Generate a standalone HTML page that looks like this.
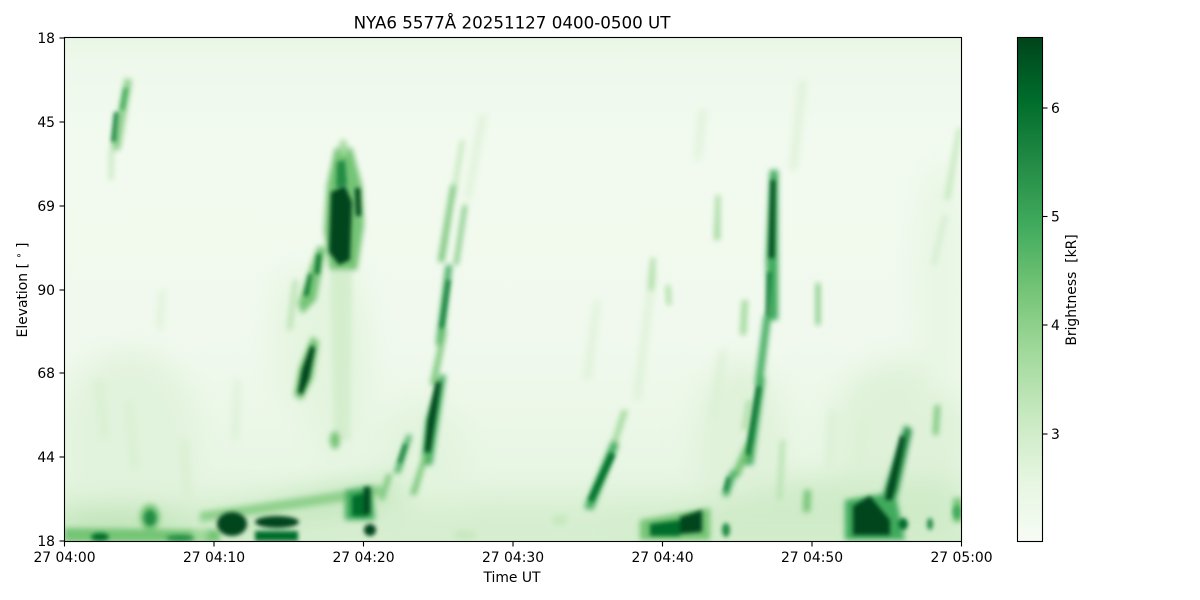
<!DOCTYPE html>
<html><head><meta charset="utf-8"><style>
html,body{margin:0;padding:0;background:#fff;}
svg{display:block;font-family:"DejaVu Sans","Liberation Sans",sans-serif;}
</style></head><body>
<svg width="1200" height="600" viewBox="0 0 1200 600" xmlns="http://www.w3.org/2000/svg">
<defs>
<clipPath id="pc"><rect x="64.5" y="37.5" width="897" height="504"/></clipPath>
<filter id="b14" x="-50%" y="-50%" width="200%" height="200%"><feGaussianBlur stdDeviation="14"/></filter>
<filter id="b5" x="-50%" y="-50%" width="200%" height="200%"><feGaussianBlur stdDeviation="4"/></filter>
<filter id="b2" x="-50%" y="-50%" width="200%" height="200%"><feGaussianBlur stdDeviation="3"/></filter>
<filter id="b1" x="-50%" y="-50%" width="200%" height="200%"><feGaussianBlur stdDeviation="2"/></filter>
<linearGradient id="bg" x1="0" y1="0" x2="0" y2="1">
<stop offset="0" stop-color="#e9f6e5"/>
<stop offset="0.05" stop-color="#eef8eb"/>
<stop offset="0.2" stop-color="#f2faef"/>
<stop offset="0.6" stop-color="#f1f9ee"/>
<stop offset="0.85" stop-color="#e8f6e4"/>
<stop offset="1" stop-color="#d8efd2"/>
</linearGradient>
<linearGradient id="cb" x1="0" y1="1" x2="0" y2="0">
<stop offset="0" stop-color="#f7fcf5"/>
<stop offset="0.125" stop-color="#e5f5e0"/>
<stop offset="0.25" stop-color="#c7e9c0"/>
<stop offset="0.375" stop-color="#a1d99b"/>
<stop offset="0.5" stop-color="#74c476"/>
<stop offset="0.625" stop-color="#41ab5d"/>
<stop offset="0.75" stop-color="#238b45"/>
<stop offset="0.875" stop-color="#006d2c"/>
<stop offset="1" stop-color="#00441b"/>
</linearGradient>
</defs>

<g clip-path="url(#pc)">
<rect x="64" y="37" width="898" height="505" fill="url(#bg)"/>
<g filter="url(#b14)">
<ellipse cx="130" cy="440" rx="70" ry="90" fill="#e2f3dd"/>
<ellipse cx="335" cy="360" rx="35" ry="100" fill="#e3f4de"/>
<ellipse cx="290" cy="340" rx="20" ry="70" fill="#e6f5e1"/>
<ellipse cx="420" cy="470" rx="50" ry="70" fill="#e3f4de"/>
<ellipse cx="740" cy="450" rx="45" ry="90" fill="#e0f2da"/>
<ellipse cx="900" cy="440" rx="70" ry="80" fill="#dff2d9"/>
<ellipse cx="940" cy="280" rx="25" ry="120" fill="#e8f6e4"/>
<rect x="64" y="505" width="900" height="40" fill="#d6eecf"/>
<path d="M200,530 Q300,490 400,480 L400,500 Q300,510 200,540Z" fill="#b8e2b1"/>
<path d="M620,530 Q700,505 800,480 L960,480 L960,541 L620,541Z" fill="#cfebc8"/>
<ellipse cx="120" cy="525" rx="70" ry="18" fill="#bfe4b8"/>
</g>
<g filter="url(#b5)" fill="#d9f0d3">
<path d="M95,380 L103,380 L110,440 L100,440Z"/>
<path d="M125,400 L132,400 L140,470 L130,470Z"/>
<path d="M180,440 L188,440 L192,500 L182,500Z"/>
<path d="M235,380 L240,380 L238,440 L232,440Z"/>
<path d="M700,110 L706,110 L700,160 L695,160Z"/>
<path d="M650,270 L656,270 L640,400 L634,400Z"/>
<path d="M595,300 L600,300 L590,380 L584,380Z"/>
<path d="M800,80 L806,80 L796,170 L790,170Z"/>
<path d="M480,115 L486,115 L470,200 L465,200Z"/>
<path d="M830,410 L836,410 L832,470 L826,470Z"/>
<path d="M860,420 L866,420 L862,470 L856,470Z"/>
<path d="M720,350 L726,350 L716,420 L710,420Z"/>
<path d="M160,290 L165,290 L162,330 L157,330Z"/>
</g>
<g filter="url(#b2)">
<path d="M125,78 L132,80 L120,150 L111,150Z" fill="#8fd08c"/>
<path d="M109,150 L114,150 L113,180 L109,180Z" fill="#c7e9c0"/>
<path d="M335,148 L352,148 L362,185 L364,225 L357,270 L330,272 L324,230 L327,185Z" fill="#74c476"/>
<path d="M340,140 L346,140 L348,155 L340,155Z" fill="#a1d99b"/>
<path d="M330,270 L352,270 L350,440 L334,440Z" fill="#d4eecd"/>
<path d="M318,246 L326,248 L316,300 L302,314 L298,304 L310,268Z" fill="#74c476"/>
<path d="M293,280 L298,280 L292,330 L287,330Z" fill="#b8e2b1"/>
<path d="M312,336 L319,342 L313,378 L302,400 L294,396 L299,368Z" fill="#74c476"/>
<ellipse cx="335" cy="440" rx="5" ry="9" fill="#74c476"/>
<path d="M460,140 L465,140 L455,200 L450,200Z" fill="#c7e9c0"/>
<path d="M451,185 L456,185 L444,262 L438,262Z" fill="#74c476"/>
<path d="M463,205 L467,205 L458,265 L454,265Z" fill="#74c476"/>
<path d="M446,265 L452,265 L443,345 L436,345Z" fill="#41ab5d"/>
<path d="M442,330 L447,330 L436,385 L430,385Z" fill="#74c476"/>
<path d="M440,375 L446,375 L432,465 L421,465 L426,420Z" fill="#41ab5d"/>
<path d="M423,455 L428,455 L416,495 L410,495Z" fill="#74c476"/>
<path d="M407,435 L412,435 L400,473 L394,473Z" fill="#41ab5d"/>
<path d="M387,474 L392,474 L384,500 L379,500Z" fill="#74c476"/>
<path d="M622,410 L628,410 L615,450 L609,450Z" fill="#a1d99b"/>
<path d="M612,440 L619,444 L593,510 L584,508Z" fill="#41ab5d"/>
<path d="M716,195 L720,195 L720,240 L714,240Z" fill="#a1d99b"/>
<path d="M816,283 L820,283 L820,325 L816,325Z" fill="#74c476"/>
<path d="M651,258 L655,258 L653,290 L649,290Z" fill="#a1d99b"/>
<path d="M666,285 L670,285 L671,305 L667,305Z" fill="#a1d99b"/>
<path d="M742,300 L748,300 L746,335 L740,335Z" fill="#a1d99b"/>
<path d="M747,400 L751,400 L746,430 L742,430Z" fill="#a1d99b"/>
<path d="M957,128 L962,128 L950,200 L944,200Z" fill="#c7e9c0"/>
<path d="M943,215 L948,215 L936,265 L931,265Z" fill="#d4eecf"/>
<path d="M935,405 L940,405 L938,435 L933,435Z" fill="#74c476"/>
<path d="M804,490 L811,490 L810,512 L803,512Z" fill="#74c476"/>
<path d="M953,498 L962,498 L962,522 L953,522Z" fill="#74c476"/>
<path d="M780,440 L785,440 L782,500 L777,500Z" fill="#b8e2b1"/>
<path d="M770,170 L778,170 L778,320 L768,320 L766,260Z" fill="#41ab5d"/>
<path d="M764,315 L771,315 L762,385 L755,385Z" fill="#41ab5d"/>
<path d="M759,375 L765,378 L753,465 L744,465Z" fill="#41ab5d"/>
<path d="M746,442 L752,446 L739,478 L731,476Z" fill="#74c476"/>
<path d="M731,470 L737,472 L728,497 L722,495Z" fill="#41ab5d"/>
<path d="M905,425 L912,430 L895,505 L880,505Z" fill="#238b45"/>
<path d="M64,528 L220,530 L220,542 L64,542Z" fill="#74c476"/>
<path d="M200,512 Q290,500 380,485 L384,495 Q290,510 200,522Z" fill="#8fd08c"/>
<path d="M345,490 L372,486 L375,520 L345,520Z" fill="#41ab5d"/>
<path d="M640,520 L710,508 L710,540 L640,540Z" fill="#74c476"/>
<path d="M845,500 L895,492 L905,540 L845,540Z" fill="#41ab5d"/>
<ellipse cx="150" cy="517" rx="10" ry="13" fill="#74c476"/>
<ellipse cx="200" cy="535" rx="8" ry="6" fill="#a1d99b"/>
<ellipse cx="560" cy="520" rx="8" ry="6" fill="#c7e9c0"/>
<ellipse cx="465" cy="535" rx="12" ry="5" fill="#c7e9c0"/>
</g>
<g filter="url(#b1)">
<path d="M114,112 L119,112 L116,142 L111,142Z" fill="#238b45"/>
<path d="M124,88 L128,88 L124,110 L120,110Z" fill="#41ab5d"/>
<path d="M331,192 L345,186 L352,202 L350,260 L339,265 L329,252Z" fill="#00441b"/>
<path d="M355,188 L360,188 L361,216 L356,216Z" fill="#00441b"/>
<path d="M337,162 L345,160 L347,185 L336,188Z" fill="#238b45"/>
<path d="M317,254 L321,254 L319,274 L315,274Z" fill="#006d2c"/>
<path d="M309,274 L312,274 L308,296 L304,296Z" fill="#006d2c"/>
<path d="M311,345 L315,348 L309,378 L302,395 L298,392 L302,370Z" fill="#00441b"/>
<path d="M447,280 L450,280 L443,328 L440,328Z" fill="#006d2c"/>
<path d="M436,382 L441,382 L430,452 L425,452 L428,420Z" fill="#00441b"/>
<path d="M404,444 L407,444 L401,463 L398,463Z" fill="#006d2c"/>
<path d="M610,452 L615,455 L593,502 L588,500Z" fill="#006d2c"/>
<path d="M771,180 L775,180 L774,258 L769,258Z" fill="#00441b"/>
<path d="M768,272 L771,272 L769,316 L766,316Z" fill="#006d2c"/>
<path d="M757,385 L761,387 L750,456 L746,454Z" fill="#006d2c"/>
<path d="M727,477 L730,477 L727,491 L724,491Z" fill="#006d2c"/>
<path d="M901,435 L905,438 L892,500 L885,500Z" fill="#00441b"/>
<ellipse cx="232" cy="524" rx="15" ry="12" fill="#00441b"/>
<ellipse cx="277" cy="522" rx="22" ry="6" fill="#00441b"/>
<path d="M255,531 L298,531 L298,541 L255,541Z" fill="#006d2c"/>
<ellipse cx="150" cy="518" rx="6" ry="8" fill="#238b45"/>
<ellipse cx="100" cy="537" rx="9" ry="4" fill="#006d2c"/>
<ellipse cx="180" cy="538" rx="14" ry="3" fill="#238b45"/>
<path d="M352,496 L368,492 L368,516 L352,516Z" fill="#006d2c"/>
<path d="M364,487 L370,487 L370,514 L364,514Z" fill="#00441b"/>
<ellipse cx="370" cy="530" rx="6" ry="6" fill="#00441b"/>
<path d="M650,524 L680,520 L680,536 L650,536Z" fill="#006d2c"/>
<path d="M680,517 L702,510 L702,532 L680,534Z" fill="#00441b"/>
<path d="M853,506 L870,496 L890,520 L890,535 L853,535Z" fill="#00441b"/>
<ellipse cx="903" cy="524" rx="5" ry="6" fill="#006d2c"/>
<ellipse cx="930" cy="524" rx="3" ry="6" fill="#238b45"/>
<ellipse cx="726" cy="530" rx="4" ry="7" fill="#238b45"/>
<ellipse cx="957" cy="512" rx="4" ry="7" fill="#41ab5d"/>
</g>
</g>

<rect x="64.5" y="37.5" width="897" height="504" fill="none" stroke="#000" stroke-width="1.1"/>
<g stroke="#000" stroke-width="1.1">
<line x1="59.5" y1="38" x2="64.5" y2="38"/>
<line x1="59.5" y1="122" x2="64.5" y2="122"/>
<line x1="59.5" y1="206" x2="64.5" y2="206"/>
<line x1="59.5" y1="290" x2="64.5" y2="290"/>
<line x1="59.5" y1="373" x2="64.5" y2="373"/>
<line x1="59.5" y1="457" x2="64.5" y2="457"/>
<line x1="59.5" y1="541" x2="64.5" y2="541"/>
<line x1="64.5" y1="541.5" x2="64.5" y2="546.5"/>
<line x1="214" y1="541.5" x2="214" y2="546.5"/>
<line x1="363.5" y1="541.5" x2="363.5" y2="546.5"/>
<line x1="513" y1="541.5" x2="513" y2="546.5"/>
<line x1="662.5" y1="541.5" x2="662.5" y2="546.5"/>
<line x1="812" y1="541.5" x2="812" y2="546.5"/>
<line x1="961.5" y1="541.5" x2="961.5" y2="546.5"/>
</g>
<g font-size="13.9" fill="#000" text-anchor="end">
<text x="55" y="43">18</text>
<text x="55" y="127">45</text>
<text x="55" y="211">69</text>
<text x="55" y="295">90</text>
<text x="55" y="378">68</text>
<text x="55" y="462">44</text>
<text x="55" y="546">18</text>
</g>
<g font-size="13.9" fill="#000" text-anchor="middle">
<text x="64.5" y="562">27 04:00</text>
<text x="214" y="562">27 04:10</text>
<text x="363.5" y="562">27 04:20</text>
<text x="513" y="562">27 04:30</text>
<text x="662.5" y="562">27 04:40</text>
<text x="812" y="562">27 04:50</text>
<text x="961.5" y="562">27 05:00</text>
<text x="512" y="582">Time UT</text>
</g>
<text x="512" y="28.5" font-size="16.7" text-anchor="middle" fill="#000">NYA6 5577Å 20251127 0400-0500 UT</text>
<text transform="translate(27,290) rotate(-90)" font-size="13.9" text-anchor="middle" fill="#000">Elevation [ <tspan font-size="10" dy="-5">∘</tspan><tspan dy="5"> ]</tspan></text>

<rect x="1017.5" y="37.5" width="25" height="504" fill="url(#cb)" stroke="#000" stroke-width="1.1"/>
<g stroke="#000" stroke-width="1.1">
<line x1="1042.5" y1="108" x2="1047.5" y2="108"/>
<line x1="1042.5" y1="216.5" x2="1047.5" y2="216.5"/>
<line x1="1042.5" y1="325" x2="1047.5" y2="325"/>
<line x1="1042.5" y1="434" x2="1047.5" y2="434"/>
</g>
<g font-size="13.9" fill="#000">
<text x="1051" y="113">6</text>
<text x="1051" y="221.5">5</text>
<text x="1051" y="330">4</text>
<text x="1051" y="439">3</text>
</g>
<text transform="translate(1076,290) rotate(-90)" font-size="13.9" text-anchor="middle" fill="#000" xml:space="preserve">Brightness  [kR]</text>
</svg>
</body></html>
